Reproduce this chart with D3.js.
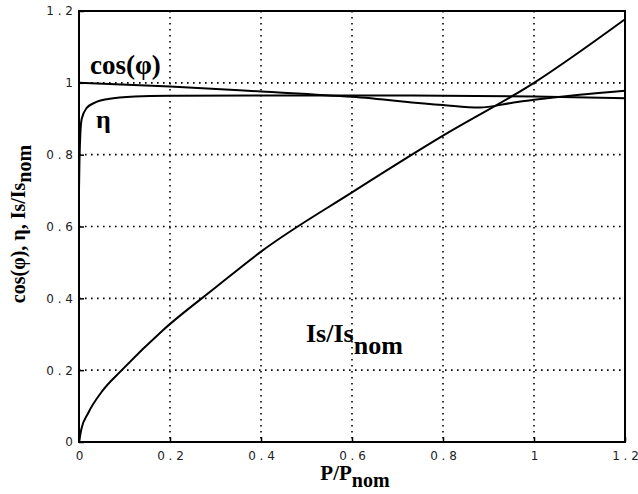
<!DOCTYPE html>
<html>
<head>
    <script src="https://d3js.org/d3.v7.min.js"></script>
    <style>
        body { margin: 0; background: #fff; }
        svg { display: block; }
    </style>
</head>
<body>
    <svg width="638" height="494"></svg>
    <script>
        // values (x = P/Pnom)
        const cosX = [0, 0.2, 0.4, 0.6, 0.8, 0.88, 0.95, 1.0, 1.1, 1.2];
        const cosY = [1.0, 0.99, 0.976, 0.961, 0.938, 0.931, 0.944, 0.953, 0.967, 0.978];

        const etaX = [0, 0.001, 0.003, 0.006, 0.017, 0.035, 0.064, 0.123, 0.2, 0.4, 0.6, 0.8, 1.0, 1.2];
        const etaY = [0.70, 0.78, 0.86, 0.90, 0.93, 0.945, 0.955, 0.962, 0.964, 0.965, 0.965, 0.964, 0.962, 0.957];

        const isX = [0, 0.005, 0.02, 0.05, 0.094, 0.185, 0.3, 0.4, 0.6, 0.8, 1.0, 1.2];
        const isY = [0, 0.035, 0.08, 0.14, 0.2, 0.312, 0.43, 0.53, 0.695, 0.853, 1.0, 1.177];

        const xTicks = [0, 0.2, 0.4, 0.6, 0.8, 1, 1.2];
        const yTicks = [0, 0.2, 0.4, 0.6, 0.8, 1, 1.2];
        const xTickLabels = ["0", "0 . 2", "0 . 4", "0 . 6", "0 . 8", "1", "1 . 2"];
        const yTickLabels = ["0", "0 . 2", "0 . 4", "0 . 6", "0 . 8", "1", "1 . 2"];

        const svg = d3.select("svg");
        const mLeft = 79, mRight = 625, mTop = 11, mBottom = 442;

        const x = d3.scaleLinear().domain([0, 1.2]).range([mLeft, mRight]);
        const y = d3.scaleLinear().domain([0, 1.2]).range([mBottom, mTop]);

        // dotted grid
        const grid = svg.append("g").attr("stroke", "#000").attr("stroke-width", 1.6)
            .attr("stroke-dasharray", "1.6,4.4");
        grid.selectAll("line.gx").data(xTicks.slice(1, -1)).enter().append("line")
            .attr("x1", d => x(d)).attr("x2", d => x(d)).attr("y1", mTop).attr("y2", mBottom);
        grid.selectAll("line.gy").data(yTicks.slice(1, -1)).enter().append("line")
            .attr("y1", d => y(d)).attr("y2", d => y(d)).attr("x1", mLeft).attr("x2", mRight);

        // axes with short inward ticks
        const xAxis = d3.axisBottom(x).tickValues(xTicks).tickSize(-5).tickPadding(9)
            .tickFormat((d, i) => xTickLabels[i]);
        const yAxis = d3.axisLeft(y).tickValues(yTicks).tickSize(-5).tickPadding(6)
            .tickFormat((d, i) => yTickLabels[i]);

        const gx = svg.append("g").attr("transform", `translate(0,${mBottom})`).call(xAxis);
        const gy = svg.append("g").attr("transform", `translate(${mLeft},0)`).call(yAxis);
        [gx, gy].forEach(g => {
            g.select(".domain").remove();
            g.selectAll(".tick line").attr("stroke", "#000").attr("stroke-width", 1.5);
            g.selectAll(".tick text").attr("font-family", "DejaVu Sans, sans-serif")
                .attr("font-size", 12).attr("fill", "#222");
        });

        // frame
        svg.append("rect").attr("x", mLeft).attr("y", mTop)
            .attr("width", mRight - mLeft).attr("height", mBottom - mTop)
            .attr("fill", "none").attr("stroke", "#000").attr("stroke-width", 2);

        const line = d3.line().curve(d3.curveMonotoneX).x(d => x(d[0])).y(d => y(d[1]));
        const series = [
            d3.zip(cosX, cosY),
            d3.zip(etaX, etaY),
            d3.zip(isX, isY)
        ];
        svg.append("g").selectAll("path").data(series).enter().append("path")
            .attr("d", line).attr("fill", "none").attr("stroke", "#000").attr("stroke-width", 2);

        // curve labels
        const serif = "Liberation Serif, Times New Roman, serif";
        svg.append("text").attr("x", 90).attr("y", 74).attr("font-family", serif)
            .attr("font-weight", "bold").attr("font-size", 27).text("cos(φ)");
        svg.append("text").attr("x", 96).attr("y", 128).attr("font-family", serif)
            .attr("font-weight", "bold").attr("font-size", 26).text("η");
        const isLab = svg.append("text").attr("x", 306).attr("y", 342).attr("font-family", serif)
            .attr("font-weight", "bold").attr("font-size", 26);
        isLab.append("tspan").text("Is/Is");
        isLab.append("tspan").attr("dy", 12).text("nom");

        // axis titles
        const xl = svg.append("text").attr("x", 355).attr("y", 480).attr("text-anchor", "middle")
            .attr("font-family", serif).attr("font-weight", "bold").attr("font-size", 21);
        xl.append("tspan").text("P/P");
        xl.append("tspan").attr("dy", 7).attr("font-size", 20).text("nom");

        const yl = svg.append("text").attr("transform", "translate(25,224) rotate(-90)")
            .attr("text-anchor", "middle").attr("font-family", serif)
            .attr("font-weight", "bold").attr("font-size", 20);
        yl.append("tspan").text("cos(φ), η, Is/Is");
        yl.append("tspan").attr("dy", 6).text("nom");
    </script>
</body>
</html>
